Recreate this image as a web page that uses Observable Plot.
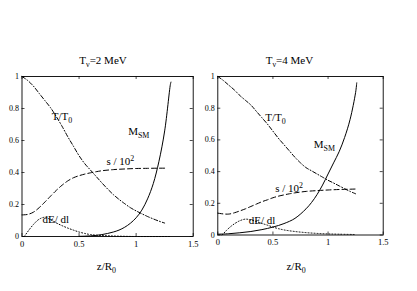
<!DOCTYPE html>
<html><head><meta charset="utf-8">
<script src="https://cdn.jsdelivr.net/npm/d3@7"></script>
<script src="https://cdn.jsdelivr.net/npm/@observablehq/plot@0.6"></script>
<style>
body{margin:0;background:#fff;}
#wrap{position:relative;width:417px;height:291px;overflow:hidden;background:#fff;}
#wrap svg{position:absolute;top:0;}
</style></head><body><div id="wrap"></div>
<script>
// ---------- tick values ----------
const xTicks = [0, 0.5, 1, 1.5];
const yTicks = [0, 0.2, 0.4, 0.6, 0.8, 1];

// ---------- panel 1: T_nu = 2 MeV ----------
const title1 = "T_{ν}=2 MeV";
const temp1 = [[0,1.0],[0.05,0.975],[0.1,0.94],[0.15,0.895],[0.2,0.85],[0.25,0.805],[0.3,0.75],[0.35,0.69],[0.4,0.625],[0.45,0.565],[0.5,0.505],[0.55,0.455],[0.6,0.415],[0.65,0.375],[0.7,0.335],[0.75,0.297],[0.8,0.262],[0.85,0.232],[0.9,0.205],[0.95,0.18],[1.0,0.16],[1.05,0.142],[1.1,0.125],[1.15,0.11],[1.2,0.096],[1.25,0.084]];
const entropy1 = [[0,0.135],[0.05,0.138],[0.1,0.152],[0.15,0.18],[0.2,0.215],[0.25,0.252],[0.3,0.288],[0.35,0.32],[0.4,0.347],[0.45,0.367],[0.5,0.38],[0.55,0.39],[0.6,0.398],[0.65,0.405],[0.7,0.411],[0.8,0.418],[0.9,0.422],[1.0,0.425],[1.1,0.426],[1.2,0.427],[1.25,0.427]];
const dEdl1 = [[0.02,0.0],[0.05,0.03],[0.1,0.075],[0.15,0.108],[0.2,0.12],[0.25,0.105],[0.3,0.085],[0.35,0.068],[0.4,0.053],[0.45,0.04],[0.5,0.028],[0.55,0.019],[0.6,0.012],[0.7,0.006],[0.8,0.003],[0.9,0.001],[1.0,0.0],[1.3,0.0]];
const msm1 = [[0.5,0.001],[0.55,0.002],[0.6,0.004],[0.65,0.007],[0.7,0.012],[0.75,0.019],[0.8,0.028],[0.85,0.04],[0.9,0.058],[0.95,0.083],[1.0,0.117],[1.05,0.165],[1.1,0.235],[1.15,0.33],[1.2,0.47],[1.25,0.66],[1.3,0.95],[1.305,0.965]];

// ---------- panel 2: T_nu = 4 MeV ----------
const title2 = "T_{ν}=4 MeV";
const temp2 = [[0,1.0],[0.05,0.975],[0.1,0.945],[0.15,0.915],[0.2,0.88],[0.25,0.85],[0.3,0.82],[0.35,0.78],[0.4,0.74],[0.45,0.7],[0.5,0.655],[0.55,0.61],[0.6,0.57],[0.65,0.53],[0.7,0.49],[0.75,0.455],[0.8,0.425],[0.85,0.405],[0.9,0.385],[0.95,0.365],[1.0,0.345],[1.05,0.328],[1.1,0.31],[1.15,0.292],[1.2,0.275],[1.25,0.26]];
const entropy2 = [[0,0.138],[0.05,0.133],[0.1,0.132],[0.15,0.14],[0.2,0.152],[0.25,0.165],[0.3,0.18],[0.35,0.195],[0.4,0.21],[0.45,0.222],[0.5,0.235],[0.55,0.245],[0.6,0.253],[0.65,0.26],[0.7,0.266],[0.8,0.275],[0.9,0.28],[1.0,0.284],[1.1,0.287],[1.2,0.289],[1.25,0.29]];
const dEdl2 = [[0.04,0.0],[0.08,0.03],[0.12,0.055],[0.16,0.075],[0.2,0.09],[0.25,0.1],[0.3,0.095],[0.35,0.085],[0.4,0.073],[0.45,0.062],[0.5,0.05],[0.55,0.04],[0.6,0.032],[0.7,0.022],[0.8,0.015],[0.9,0.01],[1.0,0.007],[1.1,0.005],[1.25,0.003]];
const msm2 = [[0,0.005],[0.1,0.008],[0.2,0.014],[0.3,0.022],[0.4,0.034],[0.5,0.05],[0.6,0.072],[0.7,0.105],[0.8,0.165],[0.85,0.205],[0.9,0.255],[0.95,0.315],[1.0,0.385],[1.05,0.455],[1.1,0.525],[1.15,0.615],[1.2,0.73],[1.25,0.9],[1.26,0.96]];

// ---------- label texts ----------
const labelTemp = "T/T_{0}";
const labelEntropy = "s / 10^{2}";
const labelDE = "dE/ dl";
const labelMSM = "M_{SM}";
const xLabel = "z/R_{0}";

const FONT = "Liberation Serif";

function panel(cfg) {
  const pw = cfg.width - cfg.ml - cfg.mr;
  const ph = 291 - cfg.mt - cfg.mb;
  const tickLen = 3;
  const line = (data, dash) => Plot.line(data, {x: d => d[0], y: d => d[1], curve: "catmull-rom", stroke: "black", strokeWidth: 1, strokeDasharray: dash});
  const txt = (items, opts) => Plot.text(items, Object.assign({x: "x", y: "y", text: "t", fontSize: 11, fill: "black", lineAnchor: "bottom"}, opts));
  const fmt = d => String(d);
  return Plot.plot({
    width: cfg.width, height: 291,
    marginLeft: cfg.ml, marginRight: cfg.mr, marginTop: cfg.mt, marginBottom: cfg.mb,
    style: {fontFamily: FONT, fontSize: "8px", background: "transparent", color: "black", overflow: "visible"},
    x: {domain: [0, 1.5]},
    y: {domain: [0, 1]},
    marks: [
      Plot.axisX({ticks: xTicks, tickFormat: fmt, tickSize: 0, tickPadding: 4, label: null, fontSize: 8.5, fontFamily: FONT}),
      Plot.axisY({ticks: yTicks, tickFormat: fmt, tickSize: 0, tickPadding: 3, label: null, fontSize: 8, fontFamily: FONT}),
      Plot.tickX(xTicks, {x: d => d, insetTop: ph - tickLen, stroke: "black", strokeWidth: 0.7}),
      Plot.tickX(xTicks, {x: d => d, insetBottom: ph - tickLen, stroke: "black", strokeWidth: 0.7}),
      Plot.tickY(yTicks, {y: d => d, insetRight: pw - tickLen, stroke: "black", strokeWidth: 0.7}),
      Plot.tickY(yTicks, {y: d => d, insetLeft: pw - tickLen, stroke: "black", strokeWidth: 0.7}),
      line(cfg.dEdl, "1,2"),
      line(cfg.entropy, "5,3"),
      line(cfg.temp, "4,2,1,2"),
      line(cfg.msm, null),
      Plot.frame({stroke: "black", strokeWidth: 0.9}),
      txt(cfg.labels, {textAnchor: "start"}),
      txt([cfg.title], {textAnchor: "middle"}),
      txt([cfg.xlab], {textAnchor: "middle"})
    ]
  });
}

function richify(svg) {
  d3.select(svg).selectAll("text").each(function () {
    const t = this.textContent;
    if (!/[_^]\{/.test(t)) return;
    const fs = parseFloat(window.getComputedStyle(this).fontSize) || 11;
    const parts = [];
    const re = /([_^])\{([^}]*)\}/g;
    let last = 0, m;
    while ((m = re.exec(t))) {
      if (m.index > last) parts.push({s: t.slice(last, m.index), k: ""});
      parts.push({s: m[2], k: m[1]});
      last = re.lastIndex;
    }
    if (last < t.length) parts.push({s: t.slice(last), k: ""});
    const el = d3.select(this);
    el.text(null);
    let shift = 0;
    for (const p of parts) {
      const ts = el.append("tspan").text(p.s);
      let target = 0;
      if (p.k === "_") target = 0.3 * fs;
      if (p.k === "^") target = -0.42 * fs;
      const dy = target - shift;
      if (dy !== 0) ts.attr("dy", dy);
      shift = target;
      if (p.k) ts.attr("font-size", 0.72 * fs);
    }
  });
}

const wrap = document.getElementById("wrap");

const p1 = panel({
  width: 200, ml: 21.5, mr: 7.3, mt: 76, mb: 55,
  temp: temp1, entropy: entropy1, dEdl: dEdl1, msm: msm1,
  labels: [
    {x: 0.26, y: 0.73, t: labelTemp},
    {x: 0.93, y: 0.635, t: labelMSM},
    {x: 0.74, y: 0.445, t: labelEntropy},
    {x: 0.18, y: 0.085, t: labelDE}
  ],
  title: {x: 0.71, y: 1.08, t: title1},
  xlab: {x: 0.74, y: -0.207, t: xLabel}
});
p1.style.left = "0px";
wrap.appendChild(p1);

const p2 = panel({
  width: 217, ml: 17.3, mr: 34.3, mt: 76, mb: 56.5,
  temp: temp2, entropy: entropy2, dEdl: dEdl2, msm: msm2,
  labels: [
    {x: 0.43, y: 0.72, t: labelTemp},
    {x: 0.87, y: 0.55, t: labelMSM},
    {x: 0.52, y: 0.27, t: labelEntropy},
    {x: 0.28, y: 0.072, t: labelDE}
  ],
  title: {x: 0.65, y: 1.08, t: title2},
  xlab: {x: 0.71, y: -0.219, t: xLabel}
});
p2.style.left = "200px";
wrap.appendChild(p2);

richify(p1);
richify(p2);
</script>
</body></html>
